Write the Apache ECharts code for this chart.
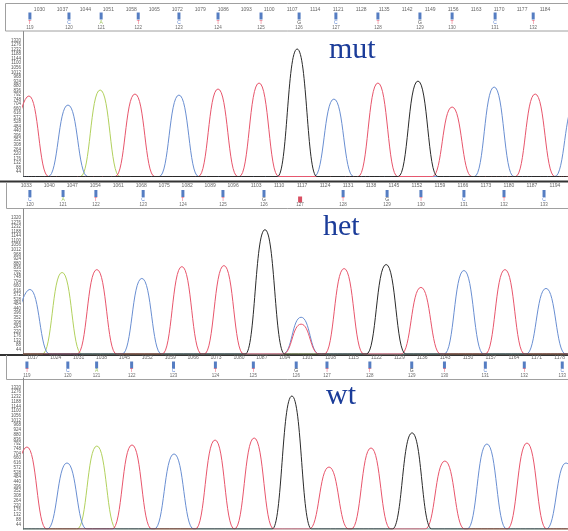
<!DOCTYPE html>
<html><head><meta charset="utf-8">
<script src="https://cdn.jsdelivr.net/npm/echarts@6/dist/echarts.min.js"></script>
<style>html,body{margin:0;padding:0;background:#fff}#c{width:568px;height:531px}</style>
</head><body><div id="c"></div>
<script>
// ---------- data ----------
const yTickLabels = [0,44,88,132,176,220,264,308,352,396,440,484,528,572,616,660,704,748,792,836,880,924,968,1012,1056,1100,1144,1188,1232,1276,1320,1364];

// panel 1: mut
const mutRange = [1025, 1191];
const mutTicks = [1030,1037,1044,1051,1058,1065,1072,1079,1086,1093,1100,1107,1114,1121,1128,1135,1142,1149,1156,1163,1170,1177,1184];
const mutT = [[1020.8,0],[1026.8,782],[1032.8,0],[1053.1,0],[1059.1,801],[1065.1,0],[1078.4,0],[1084.4,850],[1090.4,0],[1090.9,0],[1096.9,908],[1102.9,0],[1127.1,0],[1133.1,908],[1139.1,0],[1149.7,0],[1155.7,675],[1161.7,0],[1175,0],[1181,801],[1187,0],[1191,0]];
const mutC = [[1025,0],[1032.7,0],[1038.7,694],[1044.7,0],[1066.5,0],[1072.5,791],[1078.5,0],[1113.7,0],[1119.7,752],[1125.7,0],[1162.5,0],[1168.5,869],[1174.5,0],[1187,0],[1193,700],[1199,0]];
const mutA = [[1025,0],[1042.5,0],[1048.5,840],[1054.5,0],[1191,0]];
const mutG = [[1025,0],[1102.5,0],[1108.5,1238],[1114.5,0],[1139.3,0],[1145.3,927],[1151.3,0],[1191,0]];
const mutBasePos = [1027.1,1039.0,1048.8,1060.1,1072.5,1084.4,1097.5,1109.1,1120.3,1133.1,1145.9,1155.7,1168.8,1180.4];
const mutBases = ['T','C','A','T','C','T','T','G','C','T','G','T','C','T'];
const mutBaseNums = [119,120,121,122,123,124,125,126,127,128,129,130,131,132];

// panel 2: het
const hetRange = [1032, 1198];
const hetTicks = [1033,1040,1047,1054,1061,1068,1075,1082,1089,1096,1103,1110,1117,1124,1131,1138,1145,1152,1159,1166,1173,1180,1187,1194];
const hetT = [[1032,0],[1048.5,0],[1054.5,820],[1060.5,0],[1074.4,0],[1080.4,849],[1086.4,0],[1087.2,0],[1093.2,859],[1099.2,0],[1111.2,0],[1116.7,290],[1122.2,0],[1123.8,0],[1129.8,830],[1135.8,0],[1147.2,0],[1153.2,647],[1159.2,0],[1172.8,0],[1178.8,820],[1184.8,0],[1198,0]];
const hetC = [[1028.1,0],[1034.1,627],[1040.1,0],[1062.2,0],[1068.2,734],[1074.2,0],[1111.2,0],[1116.7,357],[1122.2,0],[1160.3,0],[1166.3,811],[1172.3,0],[1185.3,0],[1191.3,637],[1197.3,0],[1198,0]];
const hetA = [[1032,0],[1037.9,0],[1043.9,792],[1049.9,0],[1198,0]];
const hetG = [[1032,0],[1099.7,0],[1105.7,1207],[1111.7,0],[1136.6,0],[1142.6,869],[1148.6,0],[1198,0]];
const hetBasePos = [1034.1,1044.2,1054.2,1068.6,1080.7,1092.9,1105.4,1116.4,1129.5,1142.9,1153.2,1166.3,1178.5,1190.7];
const hetBases = ['C','A','T','C','T','T','G','N','T','G','T','C','T','C'];
const hetBaseNums = [120,121,122,123,124,125,126,127,128,129,130,131,132,133];

// panel 3: wt
const wtRange = [1014, 1180];
const wtTicks = [1017,1024,1031,1038,1045,1052,1059,1066,1073,1080,1087,1094,1101,1108,1115,1122,1129,1136,1143,1150,1157,1164,1171,1178];
const wtT = [[1009.2,0],[1015.2,765],[1021.2,0],[1041.2,0],[1047.2,784],[1053.2,0],[1066.5,0],[1072.5,830],[1078.4,0],[1084.4,849],[1090.4,0],[1101.2,0],[1107.2,578],[1113.2,0],[1114,0],[1120,756],[1126,0],[1136.5,0],[1142.5,634],[1148.5,0],[1161.5,0],[1167.5,802],[1173.5,0],[1180,0]];
const wtC = [[1014,0],[1021.4,0],[1027.4,616],[1033.4,0],[1054,0],[1060,700],[1066,0],[1149.3,0],[1155.3,793],[1161.3,0],[1173.4,0],[1179.4,616],[1185.4,0]];
const wtA = [[1014,0],[1030.5,0],[1036.5,774],[1042.5,0],[1180,0]];
const wtG = [[1014,0],[1089.9,0],[1095.9,1240],[1101.9,0],[1126.5,0],[1132.5,896],[1138.5,0],[1180,0]];
const wtBasePos = [1015.2,1027.7,1036.5,1047.2,1060.0,1072.8,1084.4,1097.5,1106.9,1120.0,1132.8,1142.8,1155.3,1167.2,1178.8];
const wtBases = ['T','C','A','T','C','T','T','G','T','T','G','T','C','T','C'];
const wtBaseNums = [119,120,121,122,123,124,125,126,127,128,129,130,131,132,133];

const panelNames = ['mut','het','wt'];

// ---------- build ----------
const panels = [
  {name:panelNames[0], range:mutRange, ticks:mutTicks, tr:{T:mutT,C:mutC,A:mutA,G:mutG}, pos:mutBasePos, bases:mutBases, nums:mutBaseNums},
  {name:panelNames[1], range:hetRange, ticks:hetTicks, tr:{T:hetT,C:hetC,A:hetA,G:hetG}, pos:hetBasePos, bases:hetBases, nums:hetBaseNums},
  {name:panelNames[2], range:wtRange, ticks:wtTicks, tr:{T:wtT,C:wtC,A:wtA,G:wtG}, pos:wtBasePos, bases:wtBases, nums:wtBaseNums}
];
const layout = [
  {hTop:3,   hH:28, ruler:7, bar:13,   letter:19.5, num:24.5, pTop:31.5, pH:145, tx:329, ty:50},
  {hTop:182, hH:26, ruler:4, bar:11.5, letter:18,   num:22.5, pTop:209,  pH:145, tx:323, ty:227},
  {hTop:355, hH:24, ruler:3, bar:10,   letter:16,   num:20.5, pTop:378,  pH:151, tx:326, ty:396}
];
const traceColor = {T:'#e8566c', C:'#6a8fd2', A:'#b2d15e', G:'#2a2a2a'};
const letterColor = {T:'#e0304a', C:'#3a68c4', A:'#86b834', G:'#222', N:'#d0243c'};
const zOrder = {A:2, C:3, T:4, G:5};
const tinyFont = 'Liberation Sans';
const plain = v => String(v);

const grid=[], xAxis=[], yAxis=[], series=[], graphic=[];
panels.forEach((p,i)=>{
  const L = layout[i];
  const gh = 2*i, gp = 2*i+1;
  grid.push({left:23, right:0, top:L.hTop, height:L.hH});
  grid.push({left:23, right:0, top:L.pTop, height:L.pH});
  xAxis.push({gridIndex:gh, type:'value', min:p.range[0], max:p.range[1], position:'top',
    axisLine:{show:false}, axisTick:{show:false}, splitLine:{show:false},
    axisLabel:{customValues:p.ticks, formatter:plain, inside:true, margin:Math.max(0.5,L.ruler-2.5), fontSize:5, color:'#666', fontFamily:tinyFont}});
  yAxis.push({gridIndex:gh, type:'value', min:0, max:L.hH, inverse:true, show:false});
  xAxis.push({gridIndex:gp, type:'value', min:p.range[0], max:p.range[1], show:false});
  yAxis.push({gridIndex:gp, type:'value', min:0, max:1408,
    axisLine:{show:true, lineStyle:{color:'#8a8a8a', width:1}}, axisTick:{show:false}, splitLine:{show:false},
    axisLabel:{customValues:yTickLabels, formatter:plain, fontSize:4.5, margin:2, color:'#555', fontFamily:tinyFont}});
  ['A','C','T','G'].forEach(b=>{
    series.push({type:'line', xAxisIndex:gp, yAxisIndex:gp, data:p.tr[b], smooth:0.5, smoothMonotone:'x',
      symbol:'none', showSymbol:false, clip:true, silent:true, animation:false, z:zOrder[b],
      lineStyle:{width:1, color:traceColor[b]}, itemStyle:{color:traceColor[b]}});
  });
  // base-call bars
  series.push({type:'scatter', xAxisIndex:gh, yAxisIndex:gh, symbol:'rect', symbolSize:[3,7], silent:true, animation:false,
    itemStyle:{color:'#2a5cb3'},
    data:p.pos.map((x,k)=>p.bases[k]==='N'?null:[x, L.bar]).filter(d=>d)});
  // ambiguous-call marker
  series.push({type:'scatter', xAxisIndex:gh, yAxisIndex:gh, symbol:'rect', symbolSize:[4,6], silent:true, animation:false,
    itemStyle:{color:letterColor.N},
    data:p.pos.map((x,k)=>p.bases[k]==='N'?[x, L.letter-0.5]:null).filter(d=>d)});
  // letters
  series.push({type:'scatter', xAxisIndex:gh, yAxisIndex:gh, silent:true, animation:false, symbolSize:0,
    label:{show:true, position:'inside', fontSize:5, fontFamily:tinyFont, formatter:(d)=>d.name},
    data:p.pos.map((x,k)=>({name:p.bases[k], value:[x, L.letter], label:{color:letterColor[p.bases[k]]}}))
      .filter(d=>d.name!=='N')});
  // base numbers
  series.push({type:'scatter', xAxisIndex:gh, yAxisIndex:gh, silent:true, animation:false, symbolSize:0,
    label:{show:true, position:'inside', fontSize:4.5, color:'#444', fontFamily:tinyFont, formatter:(d)=>String(d.value[2])},
    data:p.pos.map((x,k)=>[x, L.num, p.nums[k]])});
  graphic.push({type:'text', x:L.tx, y:L.ty, z:100,
    style:{text:p.name, font:'30px "Liberation Serif"', fill:'#1b3c99', align:'left', verticalAlign:'middle'}});
});
// frames
graphic.push({type:'rect', shape:{x:5.5,y:3.5,width:570,height:27.5}, style:{fill:'none', stroke:'#a0a0a0', lineWidth:1}});
graphic.push({type:'line', shape:{x1:0,y1:181.5,x2:568,y2:181.5}, style:{stroke:'#333', lineWidth:2}});
graphic.push({type:'line', shape:{x1:6.5,y1:182,x2:6.5,y2:208.5}, style:{stroke:'#a0a0a0', lineWidth:1}});
graphic.push({type:'line', shape:{x1:6.5,y1:208.5,x2:568,y2:208.5}, style:{stroke:'#a0a0a0', lineWidth:1}});
graphic.push({type:'line', shape:{x1:0,y1:355,x2:568,y2:355}, style:{stroke:'#333', lineWidth:2}});
graphic.push({type:'line', shape:{x1:6.5,y1:355,x2:6.5,y2:379.5}, style:{stroke:'#a0a0a0', lineWidth:1}});
graphic.push({type:'line', shape:{x1:6.5,y1:379.5,x2:568,y2:379.5}, style:{stroke:'#a0a0a0', lineWidth:1}});

const chart = echarts.init(document.getElementById('c'), null, {renderer:'canvas'});
chart.setOption({animation:false, backgroundColor:'#fff', grid, xAxis, yAxis, series, graphic});
</script></body></html>
